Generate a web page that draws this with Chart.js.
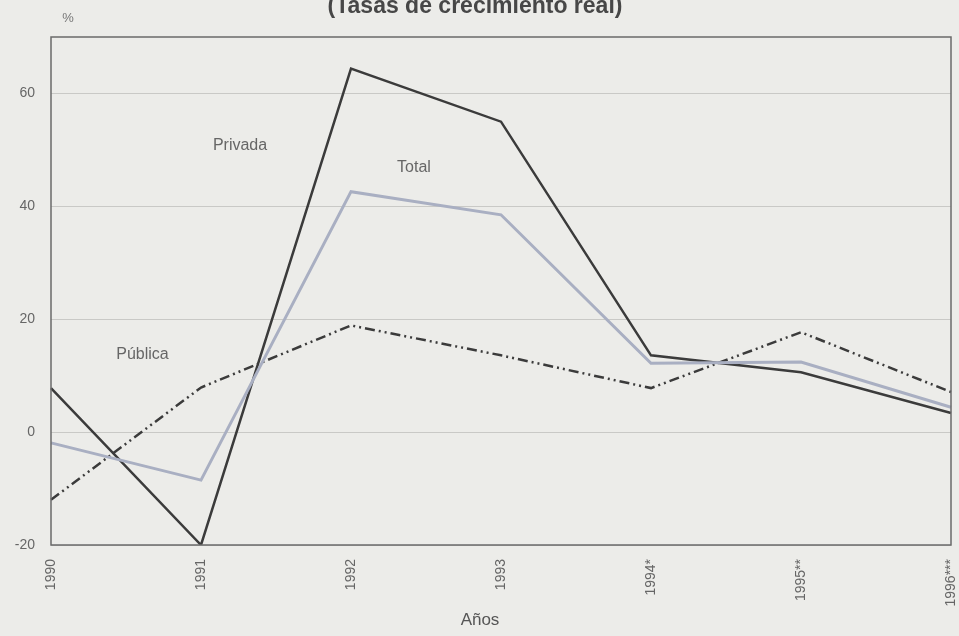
<!DOCTYPE html>
<html>
<head>
<meta charset="utf-8">
<script src="https://cdn.jsdelivr.net/npm/chart.js@4/dist/chart.umd.min.js"></script>
<style>
  html, body { margin: 0; padding: 0; background: #ecece9; }
  #wrap { width: 959px; height: 636px; position: relative; }
</style>
</head>
<body>
<div id="wrap"><canvas id="chart"></canvas></div>
<script>
const years = ['1990', '1991', '1992', '1993', '1994*', '1995**', '1996***'];

const privada = [7.8, -20, 64.4, 55.0, 13.6, 10.6, 3.4];
const total = [-1.9, -8.5, 42.6, 38.5, 12.2, 12.4, 4.4];
const publica = [-12.0, 7.9, 18.9, 13.6, 7.8, 17.7, 7.1];

const yTicks = [-20, 0, 20, 40, 60];

// series name, x (category index), y (value)
const seriesLabels = [
    { text: 'Privada', x: 1.26, y: 50.7 },
    { text: 'Total', x: 2.42, y: 46.8 },
    { text: 'Pública', x: 0.61, y: 13.7 },
];

const ink = '#3b3b3b';
const font = '"Liberation Sans", Arial, sans-serif';

const decorations = {
    id: 'decorations',
    beforeDraw(chart) {
        const { ctx } = chart;
        ctx.save();
        ctx.fillStyle = '#ecece9';
        ctx.fillRect(0, 0, chart.width, chart.height);
        ctx.restore();
    },
    afterDraw(chart) {
        const { ctx, chartArea: a, scales } = chart;
        ctx.save();
        ctx.strokeStyle = '#6a6a6a';
        ctx.lineWidth = 1.5;
        ctx.strokeRect(a.left, a.top, a.right - a.left, a.bottom - a.top);

        ctx.fillStyle = '#474747';
        ctx.font = 'bold 23px ' + font;
        ctx.textAlign = 'center';
        ctx.textBaseline = 'alphabetic';
        ctx.fillText('(Tasas de crecimiento real)', 475, 13);

        ctx.textBaseline = 'middle';
        ctx.fillStyle = '#777';
        ctx.font = '13px ' + font;
        ctx.fillText('%', a.left + 17, a.top - 19);

        // axis title, centred on the page rather than the plot
        ctx.fillStyle = '#555';
        ctx.font = '17px ' + font;
        ctx.fillText('Años', 480, 620);

        ctx.fillStyle = '#666';
        ctx.font = '16px ' + font;
        seriesLabels.forEach(l => {
            ctx.fillText(l.text, scales.x.getPixelForValue(l.x), scales.y.getPixelForValue(l.y));
        });
        ctx.restore();
    }
};

new Chart(
    document.getElementById('chart'),
    {
        type: 'line',
        data: {
            labels: years,
            datasets: [
                {
                    label: 'Total',
                    data: total,
                    borderColor: '#a9afc2',
                    borderWidth: 3,
                },
                {
                    label: 'Pública',
                    data: publica,
                    borderColor: ink,
                    borderWidth: 2.5,
                    borderDash: [10, 4, 2, 4, 2, 4],
                },
                {
                    label: 'Privada',
                    data: privada,
                    borderColor: ink,
                    borderWidth: 2.5,
                },
            ]
        },
        options: {
            responsive: true,
            maintainAspectRatio: false,
            animation: false,
            layout: {
                padding: { top: 37, right: 8, left: 0, bottom: 0 }
            },
            plugins: {
                legend: { display: false },
                tooltip: { enabled: false },
            },
            elements: {
                point: { radius: 0 },
                line: { tension: 0, fill: false, borderJoinStyle: 'miter' }
            },
            scales: {
                x: {
                    offset: false,
                    grid: { display: false },
                    border: { display: false },
                    afterFit: (scale) => {
                        scale.height = 91;
                        scale.paddingLeft = 0;
                        scale.paddingRight = 0;
                    },
                    ticks: {
                        minRotation: 90,
                        maxRotation: 90,
                        padding: 6,
                        color: '#666',
                        font: { family: font, size: 14 },
                    }
                },
                y: {
                    min: -20,
                    max: 70,
                    afterFit: (scale) => { scale.width = 51; },
                    afterBuildTicks: (scale) => {
                        scale.ticks = yTicks.map(v => ({ value: v }));
                    },
                    grid: {
                        color: '#c9c9c6',
                        lineWidth: 1,
                        drawTicks: false,
                    },
                    border: { display: false },
                    ticks: {
                        padding: 16,
                        color: '#666',
                        font: { family: font, size: 14 },
                    }
                }
            }
        },
        plugins: [decorations]
    }
);
</script>
</body>
</html>
